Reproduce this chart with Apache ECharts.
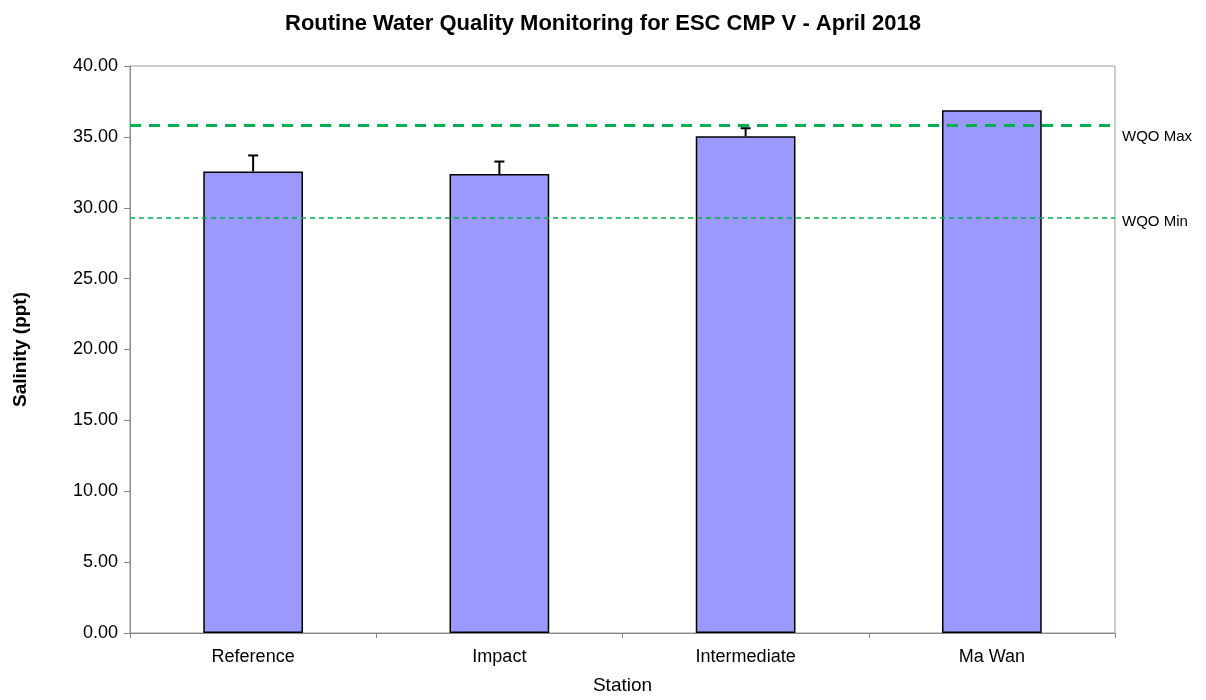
<!DOCTYPE html>
<html>
<head>
<meta charset="utf-8">
<script src="https://cdn.jsdelivr.net/npm/echarts@6/dist/echarts.min.js"></script>
<style>
  html, body { margin: 0; padding: 0; background: #fff; }
  #chart { width: 1206px; height: 700px; }
</style>
</head>
<body>
<div id="chart"></div>
<script>
const stations = ['Reference', 'Impact', 'Intermediate', 'Ma Wan']
const salinity = [32.56, 32.38, 35.05, 36.88]
const errorTop = [33.69, 33.26, 35.61, 36.88]
const wqoMax = 35.85
const wqoMin = 29.32
const yTicks = { min: 0, max: 40, interval: 5 }

const chart = echarts.init(document.getElementById('chart'))

// upward error bars with a small cap
function renderError(params, api) {
  const x = api.value(0)
  const lo = api.coord([x, api.value(1)])
  const hi = api.coord([x, api.value(2)])
  if (hi[1] >= lo[1] - 0.5) return null
  const cap = 5
  return {
    type: 'group',
    children: [
      { type: 'line', shape: { x1: lo[0], y1: lo[1], x2: hi[0], y2: hi[1] },
        style: { stroke: '#000', lineWidth: 2 } },
      { type: 'line', shape: { x1: hi[0] - cap, y1: hi[1], x2: hi[0] + cap, y2: hi[1] },
        style: { stroke: '#000', lineWidth: 2 } }
    ]
  }
}

const options = {
  animation: false,
  textStyle: { fontFamily: 'Liberation Sans, Arial, sans-serif' },
  title: {
    text: 'Routine Water Quality Monitoring for ESC CMP V - April 2018',
    left: 'center',
    top: 8,
    textStyle: { fontSize: 22, fontWeight: 'bold', color: '#000' }
  },
  grid: {
    left: 130,
    right: 91,
    top: 66,
    bottom: 66,
    show: true,
    borderColor: '#999',
    borderWidth: 1
  },
  xAxis: {
    type: 'category',
    data: stations,
    name: 'Station',
    nameLocation: 'middle',
    nameGap: 43,
    nameTextStyle: { fontSize: 19, color: '#000' },
    axisLine: { lineStyle: { color: '#888', width: 1 } },
    axisTick: { show: true, alignWithLabel: false, length: 5, lineStyle: { color: '#888' } },
    axisLabel: { fontSize: 18, color: '#000', margin: 15 }
  },
  yAxis: {
    type: 'value',
    min: yTicks.min,
    max: yTicks.max,
    interval: yTicks.interval,
    name: 'Salinity (ppt)',
    nameLocation: 'middle',
    nameGap: 100,
    nameTextStyle: { fontSize: 19, fontWeight: 'bold', color: '#000' },
    splitLine: { show: false },
    axisLine: { show: true, lineStyle: { color: '#888', width: 1 } },
    axisTick: { show: true, length: 6, lineStyle: { color: '#888' } },
    axisLabel: {
      fontSize: 18,
      color: '#000',
      margin: 12,
      formatter: v => v.toFixed(2)
    }
  },
  series: [
    {
      name: 'Salinity',
      type: 'bar',
      data: salinity,
      barWidth: '40.5%',
      itemStyle: { color: '#9999ff', borderColor: '#000', borderWidth: 1.5 },
      markLine: {
        symbol: 'none',
        silent: true,
        data: [
          {
            yAxis: wqoMax,
            lineStyle: { color: '#00b050', type: [11, 8], width: 3 },
            label: { formatter: 'WQO Max', offset: [0, 12] }
          },
          {
            yAxis: wqoMin,
            lineStyle: { color: '#00b050', type: [5, 4], width: 1.5 },
            label: { formatter: 'WQO Min', offset: [0, 4] }
          }
        ],
        label: {
          position: 'end',
          distance: 7,
          fontSize: 15,
          color: '#000'
        }
      }
    },
    {
      name: 'Error',
      type: 'custom',
      renderItem: renderError,
      data: stations.map((s, i) => [i, salinity[i], errorTop[i]]),
      z: 3
    }
  ]
}

chart.setOption(options)
</script>
</body>
</html>
